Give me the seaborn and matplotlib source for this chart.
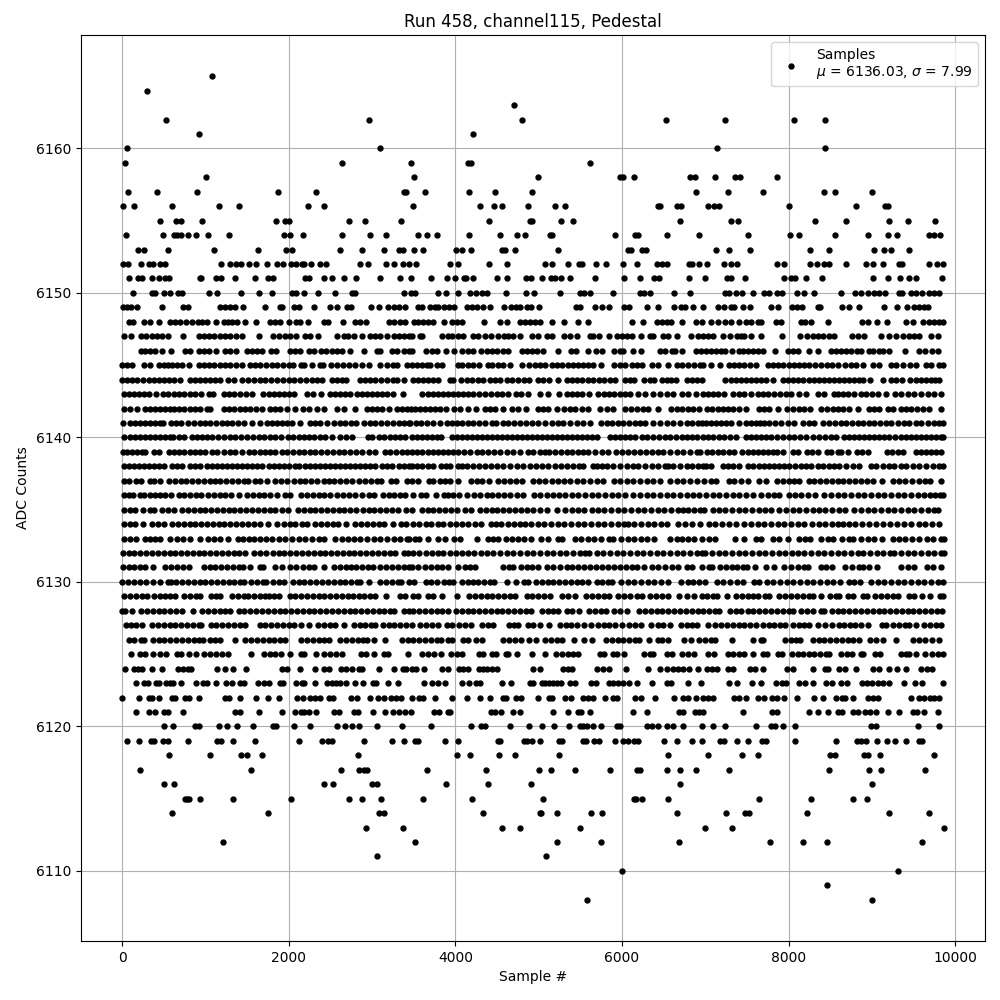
import numpy as np
import pandas as pd
import matplotlib
matplotlib.use("Agg")
import matplotlib.pyplot as plt
import seaborn as sns

# sample positions, one list per ADC level
adc_6108 = [5580, 9000]
adc_6109 = [8460]
adc_6110 = [6000, 9312]
adc_6111 = [3056, 5088]
adc_6112 = [1208, 3512, 5220, 5748, 6684, 7776, 8172, 8460, 9600]
adc_6113 = [2924, 3368, 4556, 4772, 5496, 6996, 7320, 9864]
adc_6114 = [596, 1748, 3080, 3140, 4328, 5012, 5028, 5220, 5628, 5760, 6660, 7248, 7476, 7524, 8220, 9204, 9684]
adc_6115 = [752, 776, 800, 932, 1328, 2024, 2720, 2876, 3104, 3608, 4196, 5052, 6144, 6168, 6240, 6552, 7644, 8268, 8772, 8940]
adc_6116 = [500, 620, 2420, 2528, 2996, 3056, 3884, 4388, 4904, 6696, 9000]
adc_6117 = [212, 1544, 2624, 2840, 2900, 2936, 3656, 4364, 5004, 5148, 5436, 5856, 6180, 6216, 6540, 6696, 6888, 7284, 8484, 8964, 9108, 9636]
adc_6118 = [560, 1052, 1424, 1496, 1676, 2828, 4016, 4172, 4520, 4712, 5244, 6552, 7032, 7440, 7632, 8496, 8556, 8904, 8952, 9096, 9744]
adc_6119 = [56, 200, 344, 380, 488, 548, 788, 1136, 1184, 1328, 1592, 2120, 2396, 2468, 2516, 2900, 3236, 3380, 3512, 3548, 3872, 4028, 4508, 4532, 4820, 4860, 4916, 5016, 5244, 5280, 5532, 5568, 5664, 5724, 5916, 6012, 6072, 6144, 6196, 6504, 6660, 6840, 6960, 7176, 7224, 7380, 7512, 7680, 7728, 8076, 8568, 8820, 8868, 8928, 9060, 9176, 9276, 9408, 9564, 9600]
adc_6120 = [500, 608, 872, 920, 1160, 1256, 1376, 1568, 1808, 1844, 2060, 2252, 2576, 2672, 2756, 2840, 3056, 3356, 3704, 4184, 4304, 4352, 4652, 4880, 5040, 5184, 5364, 5492, 5532, 5580, 5652, 5748, 5940, 5972, 6300, 6360, 6432, 6540, 6612, 6732, 6960, 7092, 7236, 7608, 7788, 7836, 7932, 8076, 8988, 9048, 9552, 9804]
adc_6121 = [164, 320, 392, 500, 548, 728, 1352, 1412, 1640, 1916, 2072, 2144, 2180, 2240, 2324, 2540, 2600, 2780, 2828, 3008, 3152, 3248, 3320, 3392, 3464, 3740, 3800, 3908, 3932, 4424, 4472, 4544, 4688, 4772, 5172, 5352, 5472, 5512, 5616, 6132, 6300, 6684, 6732, 6876, 6924, 6972, 7452, 7800, 7860, 8244, 8352, 8472, 8592, 8640, 8772, 8832, 8916, 8972, 9048, 9192, 9324, 9492, 9540, 9624, 9792]
adc_6122 = [0, 200, 320, 356, 440, 596, 632, 752, 800, 920, 1232, 1280, 1412, 1604, 1748, 1880, 2096, 2168, 2252, 2312, 2372, 2480, 2528, 2744, 2816, 2972, 3068, 3140, 3224, 3284, 3344, 3476, 3560, 3608, 3752, 3956, 4136, 4292, 4412, 4568, 4604, 4724, 4784, 4992, 5124, 5160, 5316, 5388, 5532, 5592, 5652, 5796, 5892, 5940, 6156, 6228, 6396, 6624, 6732, 6792, 6888, 6972, 7032, 7092, 7344, 7404, 7488, 7632, 7704, 7800, 7860, 7944, 8100, 8304, 8412, 8568, 8640, 8676, 8772, 8952, 9012, 9072, 9468, 9564, 9624, 9696, 9744, 9804]
adc_6123 = [164, 260, 308, 404, 440, 524, 572, 608, 704, 884, 968, 1016, 1124, 1244, 1316, 1412, 1460, 1628, 1700, 1760, 1892, 1928, 2084, 2156, 2180, 2312, 2456, 2516, 2564, 2612, 2684, 2792, 2888, 3008, 3044, 3188, 3308, 3620, 3716, 3788, 3872, 4076, 4160, 4244, 4292, 4556, 4664, 4892, 4932, 5040, 5076, 5124, 5172, 5220, 5268, 5376, 5436, 5628, 5688, 5844, 5892, 5952, 6012, 6084, 6180, 6360, 6540, 6588, 6792, 6948, 7284, 7380, 7560, 7668, 7848, 7920, 7968, 8124, 8196, 8292, 8448, 8520, 8628, 8700, 8880, 8940, 9000, 9072, 9132, 9204, 9384, 9516, 9600, 9852]
adc_6124 = [32, 140, 188, 236, 356, 476, 668, 728, 788, 824, 1136, 1232, 1328, 1484, 1916, 1976, 2132, 2312, 2420, 2480, 2624, 2684, 2756, 2840, 2876, 3080, 3260, 3368, 3404, 3476, 3532, 3620, 3836, 3908, 4040, 4088, 4148, 4280, 4328, 4376, 4436, 4496, 4932, 5016, 5292, 5352, 5400, 5700, 5772, 5844, 6048, 6312, 6456, 6540, 6612, 6672, 6732, 6804, 6912, 7020, 7080, 7140, 7272, 7332, 7536, 7596, 7692, 7980, 8052, 8292, 8436, 8472, 8604, 8676, 8808, 9012, 9084, 9204, 9300, 9408, 9588, 9660, 9720]
adc_6125 = [108, 212, 280, 372, 452, 532, 660, 708, 800, 892, 988, 1060, 1132, 1200, 1268, 1548, 1700, 1772, 1840, 1908, 2012, 2148, 2188, 2324, 2428, 2500, 2572, 2640, 2868, 2932, 3020, 3148, 3188, 3428, 3604, 3668, 3748, 3828, 3948, 4016, 4084, 4284, 4336, 4444, 4484, 4604, 4636, 4736, 4916, 5076, 5204, 5276, 5348, 5416, 5468, 5736, 5788, 5896, 5936, 6024, 6268, 6336, 6376, 6536, 6596, 6724, 6796, 6868, 7028, 7108, 7268, 7336, 7408, 7468, 7568, 7688, 7736, 7868, 7920, 8040, 8108, 8176, 8240, 8308, 8376, 8448, 8488, 8628, 8696, 8760, 8868, 8896, 9040, 9096, 9348, 9408, 9440, 9528, 9640, 9720, 9788, 9848]
adc_6126 = [80, 148, 228, 268, 372, 440, 508, 580, 652, 720, 788, 860, 920, 972, 1052, 1120, 1172, 1352, 1480, 1548, 1620, 1692, 1760, 1828, 1900, 1960, 2148, 2220, 2292, 2360, 2420, 2480, 2620, 2692, 2760, 2828, 2892, 2940, 3020, 3160, 3360, 3428, 3496, 3564, 3636, 3708, 3776, 3828, 3908, 3956, 4096, 4156, 4244, 4316, 4576, 4644, 4716, 4788, 4884, 4964, 5076, 5148, 5216, 5284, 5428, 5540, 5644, 5804, 5876, 5948, 6016, 6084, 6156, 6204, 6324, 6428, 6484, 6548, 6748, 6828, 6928, 7000, 7068, 7120, 7316, 7568, 7668, 7696, 7960, 8028, 8088, 8136, 8288, 8360, 8428, 8496, 8568, 8640, 8708, 8776, 8848, 8976, 9048, 9128, 9288, 9488, 9560, 9640, 9720, 9808]
adc_6127 = [52, 108, 172, 240, 360, 428, 500, 572, 640, 708, 780, 852, 920, 948, 1068, 1132, 1200, 1268, 1340, 1412, 1480, 1652, 1720, 1788, 1860, 1932, 2000, 2068, 2148, 2240, 2348, 2420, 2492, 2560, 2660, 2780, 2852, 2920, 2988, 3040, 3132, 3200, 3268, 3340, 3412, 3484, 3576, 3644, 3716, 3788, 3896, 3956, 4044, 4116, 4188, 4324, 4388, 4456, 4644, 4708, 4756, 4876, 4936, 5016, 5128, 5252, 5324, 5388, 5456, 5548, 5628, 5708, 5780, 5848, 5920, 5996, 6084, 6156, 6228, 6348, 6428, 6496, 6576, 6708, 6776, 6844, 6904, 7028, 7120, 7188, 7256, 7328, 7400, 7468, 7536, 7608, 7688, 7760, 7828, 7896, 7960, 8048, 8120, 8188, 8248, 8348, 8432, 8520, 8600, 8668, 8736, 8800, 8868, 8948, 9120, 9168, 9256, 9328, 9400, 9440, 9528, 9628, 9696, 9768, 9828]
adc_6128 = [0, 40, 124, 228, 300, 372, 440, 508, 580, 652, 720, 852, 960, 1028, 1100, 1172, 1240, 1292, 1400, 1468, 1540, 1612, 1680, 1748, 1820, 1892, 1960, 2028, 2100, 2172, 2240, 2308, 2380, 2452, 2520, 2588, 2660, 2732, 2800, 2868, 2940, 3012, 3080, 3148, 3220, 3268, 3388, 3440, 3496, 3564, 3636, 3708, 3776, 3844, 3916, 4004, 4076, 4148, 4216, 4284, 4356, 4428, 4496, 4564, 4636, 4708, 4776, 4844, 4908, 5036, 5108, 5176, 5228, 5336, 5404, 5484, 5604, 5676, 5748, 5804, 5908, 5976, 6056, 6204, 6276, 6348, 6416, 6484, 6556, 6628, 6696, 6764, 6840, 6908, 6976, 7048, 7120, 7168, 7296, 7368, 7428, 7508, 7576, 7648, 7720, 7788, 7856, 7928, 8000, 8056, 8148, 8216, 8288, 8388, 8428, 8520, 8588, 8656, 8728, 8800, 8868, 8936, 9008, 9080, 9148, 9216, 9288, 9360, 9428, 9496, 9568, 9640, 9708, 9776, 9840]
adc_6129 = [28, 100, 172, 240, 300, 380, 452, 520, 580, 640, 748, 820, 892, 940, 1068, 1132, 1172, 1320, 1388, 1460, 1508, 1580, 1652, 1720, 1760, 1828, 1880, 2012, 2080, 2148, 2220, 2292, 2360, 2428, 2500, 2572, 2640, 2708, 2772, 2840, 2908, 2980, 3040, 3172, 3332, 3400, 3496, 3556, 3668, 3732, 3844, 4024, 4164, 4236, 4308, 4376, 4444, 4516, 4588, 4656, 4716, 4856, 4924, 4996, 5068, 5140, 5284, 5356, 5436, 5564, 5636, 5708, 5780, 5844, 5956, 6028, 6096, 6176, 6244, 6336, 6404, 6476, 6556, 6684, 6776, 6860, 6956, 7016, 7096, 7136, 7256, 7368, 7440, 7508, 7568, 7628, 7720, 7768, 7888, 7960, 8028, 8096, 8168, 8240, 8296, 8384, 8496, 8568, 8608, 8708, 8768, 8888, 8936, 9040, 9108, 9176, 9248, 9308, 9448, 9508, 9600, 9696, 9816, 9856]
adc_6130 = [0, 68, 140, 212, 292, 372, 452, 548, 588, 652, 720, 788, 860, 932, 1000, 1068, 1140, 1212, 1280, 1348, 1420, 1460, 1548, 1620, 1692, 1732, 1812, 1880, 1948, 2052, 2120, 2188, 2260, 2332, 2400, 2468, 2540, 2612, 2680, 2748, 2820, 2860, 2960, 3100, 3172, 3240, 3308, 3348, 3440, 3508, 3644, 3708, 3776, 3868, 3924, 3976, 4076, 4148, 4216, 4268, 4348, 4416, 4468, 4616, 4724, 4828, 4876, 4964, 5036, 5108, 5176, 5244, 5316, 5388, 5456, 5524, 5596, 5696, 5764, 5836, 5884, 5988, 6068, 6148, 6228, 6308, 6388, 6468, 6548, 6708, 6788, 6848, 6920, 7000, 7136, 7216, 7296, 7376, 7456, 7588, 7640, 7736, 7816, 7896, 7976, 8056, 8136, 8216, 8296, 8376, 8456, 8536, 8616, 8720, 8788, 8856, 8988, 9068, 9148, 9228, 9308, 9388, 9468, 9548, 9628, 9708, 9788, 9856]
adc_6131 = [12, 80, 148, 220, 280, 368, 520, 588, 660, 732, 800, 980, 1052, 1120, 1188, 1260, 1332, 1400, 1452, 1540, 1652, 1692, 1840, 1920, 2020, 2092, 2172, 2240, 2308, 2428, 2548, 2620, 2692, 2748, 2812, 2880, 2948, 3012, 3100, 3172, 3240, 3308, 3380, 3440, 3484, 3556, 3636, 3708, 3776, 3844, 3908, 4036, 4116, 4176, 4236, 4576, 4644, 4696, 4788, 4856, 4924, 4996, 5096, 5172, 5252, 5336, 5404, 5476, 5548, 5616, 5684, 5756, 5836, 5908, 5976, 6044, 6116, 6176, 6260, 6356, 6436, 6516, 6596, 6676, 6776, 6840, 6956, 7040, 7080, 7176, 7248, 7320, 7376, 7456, 7496, 7600, 7728, 7828, 7948, 8028, 8108, 8188, 8228, 8388, 8448, 8520, 8680, 8760, 8848, 8888, 8968, 9056, 9348, 9428, 9508, 9656, 9728, 9832]
adc_6132 = [12, 80, 148, 220, 292, 360, 428, 500, 572, 640, 708, 780, 852, 920, 988, 1060, 1132, 1200, 1268, 1340, 1400, 1480, 1588, 1660, 1732, 1812, 1880, 1948, 2020, 2092, 2160, 2228, 2300, 2372, 2440, 2508, 2580, 2652, 2720, 2788, 2860, 2932, 3000, 3068, 3140, 3212, 3280, 3388, 3428, 3496, 3564, 3644, 3716, 3788, 3856, 3936, 4004, 4076, 4156, 4228, 4308, 4376, 4456, 4536, 4616, 4696, 4776, 4856, 4936, 5016, 5096, 5176, 5256, 5324, 5416, 5496, 5556, 5604, 5696, 5776, 5856, 5936, 6016, 6096, 6176, 6256, 6336, 6416, 6496, 6576, 6656, 6736, 6816, 6896, 6956, 7000, 7080, 7160, 7240, 7320, 7400, 7480, 7560, 7640, 7720, 7800, 7880, 7960, 8040, 8108, 8188, 8268, 8348, 8428, 8508, 8588, 8668, 8748, 8828, 8896, 8976, 9056, 9136, 9216, 9268, 9348, 9428, 9508, 9588, 9668, 9748, 9828, 9860]
adc_6133 = [20, 92, 172, 280, 340, 400, 460, 572, 660, 732, 820, 932, 1028, 1100, 1172, 1268, 1388, 1452, 1520, 1588, 1660, 1732, 1800, 1880, 1960, 2040, 2120, 2200, 2280, 2360, 2428, 2560, 2640, 2708, 2780, 2852, 2940, 3020, 3092, 3180, 3260, 3340, 3420, 3444, 3516, 3564, 3676, 3796, 3876, 3988, 4056, 4260, 4388, 4456, 4508, 4604, 4676, 4748, 4828, 4908, 5028, 5116, 5228, 5284, 5436, 5508, 5588, 5668, 5748, 5844, 5896, 5988, 6068, 6148, 6228, 6296, 6388, 6576, 6656, 6724, 6796, 6868, 6964, 7048, 7120, 7352, 7468, 7608, 7668, 7808, 7880, 7988, 8120, 8200, 8256, 8388, 8468, 8536, 8640, 8720, 8776, 8868, 8948, 9028, 9120, 9248, 9320, 9400, 9480, 9560, 9656, 9736, 9828, 9860]
adc_6134 = [20, 92, 160, 252, 360, 428, 500, 600, 668, 740, 812, 880, 948, 1020, 1092, 1160, 1228, 1300, 1372, 1440, 1508, 1580, 1652, 1748, 1860, 1940, 2012, 2080, 2160, 2220, 2320, 2388, 2460, 2532, 2588, 2692, 2800, 2868, 2940, 3012, 3080, 3140, 3252, 3348, 3412, 3496, 3564, 3644, 3708, 3788, 3856, 3936, 4004, 4076, 4156, 4236, 4308, 4428, 4484, 4548, 4636, 4708, 4776, 4836, 4908, 4988, 5068, 5148, 5228, 5308, 5388, 5468, 5548, 5628, 5708, 5788, 5868, 5948, 6028, 6076, 6148, 6228, 6308, 6388, 6468, 6536, 6676, 6756, 6836, 6936, 7040, 7120, 7200, 7280, 7368, 7468, 7548, 7628, 7708, 7788, 7868, 7948, 8028, 8108, 8188, 8280, 8360, 8440, 8520, 8588, 8648, 8720, 8800, 8880, 8960, 9048, 9136, 9216, 9296, 9388, 9468, 9560, 9640, 9720, 9808]
adc_6135 = [28, 92, 160, 248, 332, 380, 480, 548, 628, 720, 788, 860, 932, 1000, 1068, 1140, 1212, 1280, 1348, 1420, 1492, 1560, 1628, 1700, 1772, 1840, 1920, 1988, 2108, 2180, 2252, 2320, 2388, 2460, 2532, 2600, 2668, 2740, 2812, 2892, 2960, 3028, 3100, 3172, 3240, 3308, 3412, 3484, 3596, 3668, 3736, 3804, 3876, 3948, 4016, 4116, 4188, 4296, 4364, 4436, 4496, 4576, 4644, 4716, 4788, 4860, 4936, 5016, 5096, 5216, 5316, 5396, 5468, 5548, 5644, 5716, 5788, 5868, 5948, 6028, 6108, 6188, 6268, 6348, 6428, 6508, 6588, 6668, 6736, 6796, 6868, 6936, 6988, 7088, 7160, 7240, 7320, 7400, 7480, 7560, 7640, 7720, 7788, 7888, 7968, 8048, 8128, 8208, 8288, 8360, 8440, 8520, 8600, 8680, 8788, 8868, 8948, 9028, 9108, 9188, 9268, 9348, 9428, 9508, 9588, 9668, 9748, 9788]
adc_6136 = [20, 80, 132, 220, 260, 332, 400, 460, 520, 588, 680, 748, 820, 892, 948, 1028, 1100, 1172, 1240, 1308, 1400, 1500, 1572, 1640, 1708, 1780, 1860, 1960, 2020, 2148, 2220, 2292, 2360, 2428, 2500, 2580, 2652, 2720, 2800, 2880, 2960, 3020, 3132, 3200, 3260, 3332, 3400, 3496, 3588, 3644, 3764, 3868, 3916, 3968, 4044, 4140, 4228, 4296, 4376, 4444, 4516, 4588, 4656, 4736, 4816, 4948, 5016, 5096, 5176, 5244, 5316, 5396, 5476, 5556, 5636, 5716, 5796, 5876, 5956, 6036, 6136, 6216, 6296, 6376, 6456, 6536, 6616, 6696, 6776, 6856, 6928, 7008, 7088, 7168, 7248, 7328, 7408, 7488, 7568, 7668, 7748, 7828, 7888, 8008, 8080, 8148, 8228, 8320, 8428, 8508, 8588, 8668, 8748, 8828, 8908, 8988, 9068, 9148, 9228, 9308, 9388, 9468, 9548, 9628, 9696, 9760, 9816, 9856]
adc_6137 = [20, 80, 172, 228, 332, 388, 460, 560, 640, 708, 772, 840, 908, 980, 1052, 1120, 1180, 1252, 1320, 1388, 1460, 1508, 1600, 1660, 1740, 1840, 1908, 1980, 2060, 2132, 2200, 2268, 2340, 2420, 2480, 2548, 2620, 2692, 2760, 2840, 2920, 2988, 3060, 3108, 3228, 3292, 3416, 3476, 3548, 3684, 3736, 3816, 3876, 3936, 4036, 4188, 4256, 4316, 4404, 4516, 4588, 4656, 4724, 4796, 4936, 5004, 5076, 5156, 5228, 5308, 5376, 5456, 5536, 5616, 5696, 5776, 5908, 5976, 6056, 6136, 6216, 6296, 6376, 6456, 6576, 6656, 6736, 6816, 6896, 6988, 7068, 7128, 7288, 7348, 7428, 7508, 7640, 7728, 7856, 7928, 8000, 8068, 8128, 8240, 8308, 8376, 8448, 8520, 8588, 8656, 8728, 8800, 8868, 8936, 9008, 9120, 9256, 9328, 9400, 9480, 9560, 9640, 9696, 9828]
adc_6138 = [20, 80, 140, 200, 260, 320, 380, 440, 500, 600, 660, 720, 820, 880, 940, 1020, 1080, 1140, 1200, 1260, 1320, 1380, 1440, 1500, 1560, 1620, 1680, 1760, 1820, 1880, 1940, 2000, 2080, 2128, 2200, 2260, 2320, 2380, 2440, 2500, 2560, 2620, 2680, 2740, 2800, 2860, 2920, 2980, 3040, 3120, 3180, 3240, 3320, 3380, 3440, 3476, 3536, 3604, 3676, 3736, 3828, 3884, 3936, 4028, 4084, 4136, 4216, 4284, 4356, 4428, 4496, 4576, 4656, 4736, 4816, 4896, 4964, 5036, 5108, 5196, 5268, 5336, 5416, 5484, 5536, 5656, 5696, 5756, 5816, 5896, 5976, 6056, 6136, 6196, 6276, 6356, 6436, 6516, 6556, 6616, 6696, 6776, 6836, 6916, 6976, 7008, 7068, 7208, 7268, 7328, 7408, 7508, 7568, 7648, 7708, 7768, 7828, 7888, 7948, 8008, 8080, 8148, 8208, 8268, 8348, 8408, 8480, 8548, 8608, 8688, 8768, 8848, 8988, 9048, 9128, 9208, 9268, 9348, 9408, 9488, 9568, 9648, 9728, 9808, 9856]
adc_6139 = [12, 60, 120, 180, 240, 280, 388, 440, 560, 620, 680, 740, 820, 880, 940, 1000, 1080, 1140, 1220, 1292, 1360, 1440, 1520, 1588, 1660, 1720, 1780, 1840, 1920, 1980, 2052, 2120, 2180, 2252, 2320, 2388, 2460, 2532, 2600, 2660, 2740, 2812, 2880, 2960, 3040, 3160, 3220, 3292, 3360, 3420, 3476, 3536, 3604, 3668, 3736, 3796, 3856, 3916, 3976, 4036, 4108, 4176, 4256, 4324, 4396, 4468, 4536, 4616, 4696, 4776, 4876, 4936, 5016, 5076, 5124, 5196, 5268, 5336, 5396, 5476, 5536, 5596, 5676, 5756, 5836, 5924, 5996, 6076, 6148, 6216, 6284, 6356, 6428, 6496, 6576, 6656, 6736, 6816, 6896, 6936, 7016, 7080, 7148, 7208, 7288, 7348, 7440, 7508, 7568, 7628, 7688, 7748, 7808, 7856, 7936, 8048, 8108, 8216, 8280, 8348, 8456, 8508, 8588, 8628, 8708, 8816, 8880, 8948, 9176, 9240, 9308, 9368, 9528, 9588, 9648, 9708, 9768, 9828]
adc_6140 = [28, 92, 160, 220, 280, 340, 400, 460, 520, 580, 612, 680, 740, 840, 900, 960, 1020, 1080, 1148, 1220, 1292, 1360, 1428, 1500, 1572, 1640, 1708, 1780, 1840, 1908, 1988, 2052, 2120, 2180, 2240, 2308, 2372, 2440, 2520, 2620, 2692, 2760, 2948, 3000, 3080, 3140, 3212, 3280, 3340, 3400, 3476, 3536, 3596, 3656, 3716, 3776, 3828, 3956, 4016, 4076, 4136, 4196, 4256, 4316, 4376, 4436, 4496, 4556, 4616, 4676, 4736, 4796, 4856, 4916, 4976, 5036, 5096, 5156, 5216, 5276, 5336, 5396, 5456, 5516, 5576, 5636, 5696, 5856, 5916, 5976, 6036, 6096, 6156, 6236, 6296, 6376, 6444, 6516, 6576, 6644, 6716, 6776, 6836, 6896, 6968, 7028, 7096, 7160, 7228, 7296, 7368, 7488, 7548, 7608, 7668, 7728, 7788, 7856, 7928, 8000, 8068, 8136, 8208, 8296, 8368, 8440, 8508, 8568, 8668, 8728, 8788, 8848, 8908, 8968, 9028, 9088, 9148, 9208, 9280, 9348, 9408, 9468, 9528, 9588, 9648, 9708, 9768, 9828, 9856]
adc_6141 = [12, 92, 160, 220, 280, 340, 400, 460, 492, 588, 652, 708, 792, 868, 932, 1000, 1060, 1132, 1200, 1260, 1320, 1388, 1468, 1560, 1652, 1740, 1800, 1860, 1920, 1980, 2040, 2140, 2252, 2320, 2380, 2460, 2540, 2612, 2680, 2748, 2812, 2900, 2972, 3040, 3108, 3180, 3252, 3320, 3380, 3440, 3456, 3524, 3588, 3656, 3736, 3816, 3896, 3956, 4016, 4084, 4156, 4216, 4284, 4356, 4436, 4484, 4576, 4636, 4708, 4776, 4844, 4916, 4988, 5076, 5156, 5228, 5296, 5376, 5456, 5536, 5616, 5748, 5816, 5884, 5956, 6016, 6084, 6156, 6216, 6276, 6376, 6456, 6536, 6616, 6696, 6776, 6844, 6916, 6956, 7008, 7068, 7128, 7188, 7248, 7308, 7408, 7488, 7548, 7608, 7656, 7708, 7768, 7840, 7908, 7988, 8068, 8168, 8240, 8308, 8408, 8488, 8560, 8628, 8688, 8760, 8828, 8888, 8968, 9028, 9096, 9168, 9228, 9308, 9388, 9448, 9528, 9588, 9668, 9748, 9808, 9856]
adc_6142 = [28, 92, 180, 280, 340, 400, 460, 520, 580, 620, 680, 748, 812, 880, 940, 1020, 1060, 1220, 1280, 1348, 1420, 1480, 1540, 1612, 1680, 1780, 1840, 1900, 1980, 2072, 2172, 2240, 2340, 2420, 2580, 2660, 2792, 2940, 3000, 3060, 3120, 3200, 3300, 3360, 3420, 3468, 3516, 3576, 3636, 3696, 3756, 3816, 3884, 3988, 4056, 4156, 4244, 4356, 4416, 4476, 4576, 4676, 4756, 4844, 4996, 5056, 5116, 5216, 5308, 5376, 5436, 5516, 5588, 5736, 5816, 5896, 6032, 6108, 6176, 6256, 6308, 6436, 6588, 6656, 6716, 6788, 6856, 6928, 7016, 7080, 7148, 7208, 7268, 7328, 7408, 7488, 7648, 7708, 7768, 7868, 7976, 8048, 8120, 8188, 8256, 8388, 8456, 8528, 8588, 8656, 8728, 8828, 8960, 9028, 9088, 9188, 9248, 9348, 9408, 9468, 9536, 9608, 9688, 9828]
adc_6143 = [20, 80, 140, 200, 260, 320, 408, 492, 548, 620, 680, 740, 820, 880, 948, 1040, 1092, 1220, 1280, 1348, 1420, 1492, 1560, 1692, 1760, 1820, 1880, 1940, 2000, 2068, 2220, 2292, 2388, 2500, 2560, 2620, 2680, 2740, 2820, 2880, 2940, 3000, 3060, 3120, 3180, 3252, 3372, 3604, 3668, 3736, 3796, 3856, 3916, 3976, 4036, 4096, 4148, 4216, 4284, 4356, 4428, 4496, 4564, 4636, 4728, 4788, 4876, 5016, 5108, 5244, 5336, 5396, 5456, 5516, 5604, 5716, 5784, 5844, 5908, 5976, 6036, 6096, 6188, 6276, 6376, 6456, 6536, 6616, 6716, 6788, 6884, 6968, 7028, 7088, 7148, 7228, 7328, 7408, 7468, 7548, 7628, 7688, 7748, 7828, 7896, 7968, 8028, 8128, 8208, 8348, 8428, 8540, 8588, 8648, 8708, 8788, 8868, 8928, 8996, 9068, 9168, 9280, 9348, 9428, 9508, 9588, 9668, 9748, 9828]
adc_6144 = [0, 60, 120, 180, 252, 320, 380, 440, 500, 560, 620, 692, 820, 880, 940, 1000, 1060, 1120, 1180, 1268, 1348, 1440, 1508, 1580, 1660, 1720, 1788, 1860, 1932, 2000, 2068, 2140, 2212, 2280, 2340, 2400, 2520, 2580, 2640, 2692, 2852, 2920, 2980, 3040, 3108, 3180, 3252, 3300, 3388, 3496, 3556, 3616, 3676, 3736, 3796, 3936, 3976, 4068, 4136, 4196, 4268, 4336, 4416, 4476, 4536, 4616, 4676, 4756, 4828, 4884, 4996, 5056, 5124, 5236, 5336, 5396, 5456, 5516, 5588, 5656, 5724, 5788, 5856, 5916, 6036, 6096, 6148, 6268, 6336, 6388, 6476, 6536, 6588, 6644, 6776, 6836, 6896, 6956, 7240, 7308, 7368, 7428, 7488, 7548, 7608, 7668, 7728, 7808, 7928, 7988, 8048, 8108, 8168, 8240, 8308, 8368, 8428, 8488, 8548, 8608, 8668, 8728, 8788, 8840, 8888, 8972, 9128, 9228, 9288, 9360, 9456, 9528, 9588, 9648, 9708, 9760, 9808]
adc_6145 = [0, 60, 120, 260, 340, 440, 500, 548, 600, 660, 720, 800, 920, 980, 1040, 1108, 1180, 1240, 1300, 1372, 1440, 1540, 1600, 1660, 1732, 1800, 1860, 1932, 2000, 2052, 2148, 2180, 2284, 2380, 2412, 2508, 2580, 2648, 2720, 2800, 2880, 2960, 3100, 3180, 3252, 3300, 3420, 3476, 3536, 3596, 3656, 3696, 3776, 3844, 4028, 4084, 4148, 4216, 4284, 4388, 4444, 4508, 4576, 4656, 4796, 4884, 4956, 5016, 5076, 5156, 5216, 5276, 5348, 5416, 5476, 5536, 5596, 5656, 5748, 5908, 5976, 6036, 6116, 6176, 6236, 6356, 6436, 6556, 6656, 6716, 6788, 6868, 6936, 6976, 7068, 7176, 7280, 7348, 7408, 7468, 7536, 7608, 7748, 7808, 7868, 7936, 8000, 8068, 8128, 8188, 8248, 8320, 8388, 8456, 8520, 8588, 8680, 8748, 8808, 8888, 9016, 9080, 9232, 9292, 9372, 9452, 9532, 9648, 9708, 9800, 9856]
adc_6146 = [228, 280, 340, 392, 480, 592, 760, 820, 920, 980, 1040, 1132, 1240, 1300, 1372, 1500, 1560, 1620, 1680, 1788, 1848, 2020, 2080, 2132, 2240, 2300, 2388, 2452, 2520, 2580, 2640, 2732, 2900, 3060, 3100, 3240, 3300, 3380, 3440, 3476, 3644, 3724, 3776, 3884, 3988, 4084, 4156, 4216, 4308, 4376, 4436, 4496, 4576, 4636, 4804, 4856, 4916, 4976, 5048, 5228, 5388, 5444, 5596, 5692, 5756, 5908, 5976, 6008, 6136, 6228, 6456, 6516, 6596, 6636, 6724, 6888, 6948, 7008, 7068, 7128, 7188, 7240, 7320, 7408, 7456, 7508, 7568, 7628, 7688, 7832, 7988, 8048, 8108, 8248, 8348, 8508, 8568, 8628, 8688, 8748, 8820, 8868, 8960, 9016, 9080, 9128, 9200, 9392, 9560, 9640, 9720, 9788]
adc_6147 = [20, 108, 228, 292, 360, 420, 480, 548, 732, 920, 980, 1040, 1100, 1180, 1240, 1300, 1372, 1440, 1640, 1812, 1880, 1960, 2020, 2084, 2200, 2260, 2348, 2580, 2660, 2708, 2780, 2880, 2972, 3040, 3100, 3180, 3260, 3320, 3380, 3440, 3476, 3576, 3604, 3844, 3908, 3964, 4036, 4096, 4216, 4276, 4356, 4428, 4516, 4588, 4636, 4696, 4776, 4916, 4996, 5096, 5156, 5300, 5376, 5456, 5616, 5656, 5720, 5840, 5936, 5996, 6056, 6116, 6228, 6336, 6376, 6496, 6556, 6656, 6828, 6908, 6968, 7028, 7088, 7208, 7296, 7376, 7428, 7468, 7552, 7668, 7920, 8136, 8216, 8288, 8348, 8408, 8480, 8548, 8760, 8828, 8908, 9108, 9208, 9288, 9368, 9448, 9508, 9560, 9708, 9788]
adc_6148 = [80, 132, 260, 332, 444, 580, 640, 700, 772, 840, 908, 960, 1020, 1124, 1220, 1268, 1320, 1380, 1472, 1604, 1780, 1840, 1900, 2000, 2092, 2140, 2228, 2420, 2468, 2652, 2792, 2852, 2928, 3200, 3260, 3340, 3400, 3508, 3556, 3616, 3676, 3736, 3868, 3964, 4016, 4084, 4340, 4540, 4616, 4776, 4836, 4896, 4956, 5016, 5156, 5300, 5476, 5596, 6116, 6256, 6420, 6476, 6536, 6588, 6724, 6888, 6960, 7072, 7148, 7240, 7308, 7408, 7488, 7548, 7628, 7668, 7848, 7908, 8148, 8200, 8264, 8468, 8880, 8948, 9064, 9180, 9408, 9488, 9608, 9680, 9748, 9808, 9856]
adc_6149 = [8, 60, 112, 180, 476, 732, 796, 1172, 1240, 1300, 1360, 1452, 1720, 1892, 1924, 2068, 2120, 2300, 2500, 2580, 2700, 2748, 2992, 3080, 3192, 3260, 3324, 3400, 3556, 3596, 3692, 3756, 3788, 3868, 3924, 3980, 4136, 4196, 4256, 4336, 4416, 4588, 4668, 4724, 4772, 4856, 4908, 5008, 5444, 5492, 5676, 5756, 5844, 6028, 6084, 6296, 6436, 6628, 6708, 6756, 6848, 6976, 7148, 7220, 7308, 7348, 7448, 7532, 7788, 7868, 8036, 8096, 8160, 8348, 8376, 8636, 8720, 8840, 9144, 9296, 9416, 9508, 9568, 9628, 9676]
adc_6150 = [128, 356, 392, 500, 572, 668, 716, 1040, 1140, 1424, 1640, 1796, 2036, 2084, 2180, 2348, 2552, 2756, 2792, 3380, 3464, 3516, 3788, 3884, 4028, 4172, 4244, 4316, 4376, 4604, 4844, 4944, 5256, 5496, 5544, 5616, 5892, 6216, 6264, 6336, 6624, 6816, 7236, 7284, 7368, 7440, 7572, 7704, 7764, 7860, 7920, 8100, 8184, 8300, 8628, 8796, 8868, 8952, 9024, 9084, 9156, 9324, 9360, 9468, 9532, 9600, 9684, 9744, 9808]
adc_6151 = [80, 188, 236, 356, 440, 520, 560, 932, 948, 1124, 1188, 1352, 1592, 1748, 1808, 2192, 2240, 2420, 2516, 2660, 2804, 3092, 3332, 3464, 3704, 3896, 3992, 4100, 4124, 4208, 4496, 4616, 4844, 4912, 5040, 5148, 5196, 5268, 5372, 5672, 6024, 6216, 6384, 6444, 6804, 6996, 7260, 7308, 7476, 7944, 8028, 8076, 8208, 8400, 9012, 9192, 9340, 9444, 9532, 9844]
adc_6152 = [8, 68, 224, 320, 368, 460, 512, 1184, 1292, 1364, 1428, 1520, 1604, 1736, 1856, 1928, 2024, 2084, 2160, 2180, 2264, 2372, 2444, 2852, 2948, 3164, 3260, 3368, 3440, 3524, 3932, 4028, 4400, 4616, 5076, 5160, 5352, 5484, 5520, 5688, 5808, 6012, 6180, 6420, 6480, 6540, 6804, 6840, 6924, 7020, 7224, 7308, 7380, 7860, 7944, 8256, 8340, 8424, 8484, 8688, 8928, 9012, 9132, 9324, 9360, 9684, 9780, 9852]
adc_6153 = [188, 260, 548, 1100, 1628, 1972, 2040, 2612, 2876, 3140, 3320, 3368, 3500, 3608, 4004, 4076, 4184, 4560, 4592, 4712, 5232, 6072, 6112, 6240, 6292, 7128, 7284, 7536, 8256, 8484, 9024, 9144, 9228, 9444]
adc_6154 = [44, 488, 620, 660, 708, 788, 884, 1028, 1280, 1940, 2012, 2168, 2636, 2972, 3172, 3548, 3656, 3776, 4160, 4532, 4736, 4832, 5132, 5156, 5916, 6152, 6192, 6540, 6924, 7512, 8016, 8124, 8556, 8952, 9192, 9300, 9684, 9740, 9816]
adc_6155 = [452, 652, 704, 956, 1844, 1960, 2000, 2720, 2912, 3344, 4400, 4892, 4920, 5268, 5412, 6696, 7308, 7392, 8316, 8688, 9204, 9432, 9756]
adc_6156 = [8, 140, 596, 1160, 1400, 2228, 2420, 3488, 4292, 4460, 4560, 4868, 5196, 5312, 6432, 6460, 6664, 6712, 7032, 7104, 7164, 8004, 8808, 9152, 9192]
adc_6157 = [68, 416, 896, 1868, 2324, 3380, 3412, 3632, 4160, 4472, 4920, 6888, 7272, 7692, 8424, 8556, 9000]
adc_6158 = [1004, 3500, 4992, 5972, 6012, 6144, 6812, 6876, 7116, 7356, 7412, 7860]
adc_6159 = [32, 2636, 3464, 4152, 4184, 5616]
adc_6160 = [56, 3092, 7140, 8436]
adc_6161 = [920, 4208]
adc_6162 = [524, 2960, 4796, 6528, 7236, 8064, 8436]
adc_6163 = [4700]
adc_6164 = [296]
adc_6165 = [1076]

levels = list(range(6108, 6166))
samples = [globals()[f"adc_{lv}"] for lv in levels]
legend_label = "Samples\n$\\mu$ = 6136.03, $\\sigma$ = 7.99"

df = pd.DataFrame({
    "sample": np.concatenate(samples),
    "adc": np.repeat(levels, [len(s) for s in samples]),
})

fig, ax = plt.subplots(figsize=(10, 10), dpi=100)
sns.scatterplot(data=df, x="sample", y="adc", color="black", marker=".", s=50,
                linewidth=1, edgecolor="black", label=legend_label, zorder=3, ax=ax)
ax.set_title("Run 458, channel115, Pedestal")
ax.set_xlabel("Sample #")
ax.set_ylabel("ADC Counts")
ax.grid(True)
ax.legend(loc="upper right")
fig.subplots_adjust(left=0.081, right=0.985, top=0.965, bottom=0.059)
fig.savefig("out.png")
